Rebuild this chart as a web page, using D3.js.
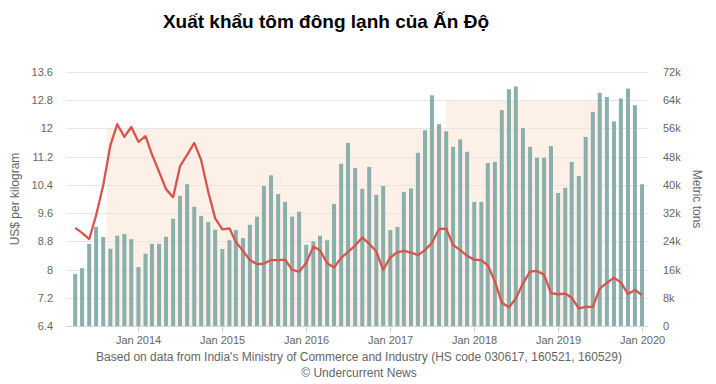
<!DOCTYPE html>
<html>
<head>
<meta charset="utf-8">
<script src="https://cdn.jsdelivr.net/npm/d3@7/dist/d3.min.js"></script>
<style>
  body { margin: 0; background: #fff; }
  svg { font-family: "Liberation Sans", Arial, sans-serif; }
  .grid line { stroke: #e6e6e6; }
  .tick-label { fill: #666; font-size: 11px; }
  .axis-title { fill: #666; font-size: 12px; }
</style>
</head>
<body>
<div id="chart"></div>
<script>
// monthly exports, Apr 2013 .. Jan 2020
const FIRST_MONTH = new Date(2013, 3, 1);
const LAST_MONTH = new Date(2020, 0, 1);

// metric tons (thousands)
const VOLUME = [
  14.7, 16.4, 23.3, 28.1, 25.2, 21.9, 25.6, 26.1, 24.6,
  16.7, 20.5, 23.3, 23.3, 25.3, 30.4, 36.9, 40.2, 33.8, 31.2, 29.5, 27.3,
  21.8, 24.3, 27.2, 24.9, 28.7, 31.0, 39.7, 42.7, 37.4, 35.2, 31.0, 32.4,
  23.0, 24.0, 25.6, 24.3, 34.6, 46.0, 51.9, 44.8, 38.9, 45.1, 37.2, 39.7,
  27.2, 28.1, 38.0, 39.0, 49.1, 55.5, 65.4, 57.2, 55.2, 50.8, 52.9, 49.4,
  35.2, 35.2, 46.2, 46.5, 61.2, 67.1, 67.9, 56.1, 50.8, 47.7, 47.7, 51.0,
  37.7, 39.2, 46.5, 42.5, 53.6, 60.7, 66.1, 64.9, 58.0, 64.5, 67.3, 62.6,
  40.2
];

// US$ per kilogram
const PRICE = [
  9.18, 9.04, 8.86, 9.54, 10.39, 11.52, 12.12, 11.76, 12.04,
  11.62, 11.78, 11.26, 10.77, 10.28, 10.05, 10.93, 11.25, 11.59, 11.10, 10.20, 9.45,
  9.14, 9.17, 8.78, 8.53, 8.27, 8.15, 8.17, 8.27, 8.27, 8.28, 7.99, 7.94,
  8.19, 8.65, 8.55, 8.18, 8.06, 8.33, 8.50, 8.68, 8.91, 8.73, 8.51, 7.99,
  8.35, 8.49, 8.53, 8.48, 8.41, 8.55, 8.76, 9.15, 9.16, 8.70, 8.55, 8.39,
  8.28, 8.27, 8.12, 7.66, 7.06, 6.93, 7.18, 7.61, 7.94, 7.96, 7.85, 7.33,
  7.30, 7.32, 7.20, 6.90, 6.94, 6.94, 7.46, 7.62, 7.77, 7.63, 7.31, 7.42,
  7.28
];

// shaded price bands
const BAND_FROM = ["2013-08-16", "2017-09-01"];
const BAND_TO = ["2017-09-01", "2019-07-16"];
const BAND_TOP = [12, 12.8];

const PRICE_TICKS = [6.4, 7.2, 8, 8.8, 9.6, 10.4, 11.2, 12, 12.8, 13.6];
const VOLUME_TICKS = [0, 8, 16, 24, 32, 40, 48, 56, 64, 72];
const YEAR_TICKS = ["2014-01-01", "2015-01-01", "2016-01-01", "2017-01-01", "2018-01-01", "2019-01-01", "2020-01-01"];

const TITLE = "Xuất khẩu tôm đông lạnh của Ấn Độ";
const SOURCE = "Based on data from India's Ministry of Commerce and Industry (HS code 030617, 160521, 160529)";
const CREDIT = "© Undercurrent News";

const WIDTH = 716, HEIGHT = 384;
const MARGIN = {left: 66, right: 68, top: 72, bottom: 58};

const parse = d3.timeParse("%Y-%m-%d");
const months = d3.timeMonth.range(FIRST_MONTH, d3.timeMonth.offset(LAST_MONTH, 1));
const data = months.map((m, i) => ({date: m, volume: VOLUME[i], price: PRICE[i]}));

const svg = d3.select("#chart")
  .append("svg")
  .attr("width", WIDTH)
  .attr("height", HEIGHT);

const X = d3.scaleTime()
  .domain([d3.timeDay.offset(FIRST_MONTH, -40), d3.timeDay.offset(LAST_MONTH, 26)])
  .range([MARGIN.left, WIDTH - MARGIN.right]);

const Y_PRICE = d3.scaleLinear()
  .domain([6.4, 13.6])
  .range([HEIGHT - MARGIN.bottom, MARGIN.top]);

const Y_VOL = d3.scaleLinear()
  .domain([0, 72])
  .range([HEIGHT - MARGIN.bottom, MARGIN.top]);

// bands
svg.append("g")
  .selectAll("rect")
  .data(BAND_TOP)
  .enter().append("rect")
  .attr("x", (d, i) => X(parse(BAND_FROM[i])))
  .attr("width", (d, i) => X(parse(BAND_TO[i])) - X(parse(BAND_FROM[i])))
  .attr("y", d => Y_PRICE(d))
  .attr("height", d => Y_PRICE(6.4) - Y_PRICE(d))
  .attr("fill", "#fdf0e6");

// grid
svg.append("g")
  .attr("class", "grid")
  .selectAll("line")
  .data(PRICE_TICKS.slice(1))
  .enter().append("line")
  .attr("x1", MARGIN.left)
  .attr("x2", WIDTH - MARGIN.right)
  .attr("y1", d => Math.round(Y_PRICE(d)) + 0.5)
  .attr("y2", d => Math.round(Y_PRICE(d)) + 0.5);

// bars
svg.append("g")
  .selectAll("rect")
  .data(data)
  .enter().append("rect")
  .attr("x", d => X(d.date) - 2)
  .attr("width", 4)
  .attr("y", d => Y_VOL(d.volume))
  .attr("height", d => Y_VOL(0) - Y_VOL(d.volume))
  .attr("fill", "#8aafad");

// x axis line + ticks
const base = Y_PRICE(6.4);
svg.append("line")
  .attr("x1", MARGIN.left)
  .attr("x2", WIDTH - MARGIN.right)
  .attr("y1", base + 0.5)
  .attr("y2", base + 0.5)
  .attr("stroke", "#ccd6eb");

const xt = svg.append("g")
  .selectAll("g")
  .data(YEAR_TICKS.map(parse))
  .enter().append("g")
  .attr("transform", d => `translate(${Math.round(X(d)) + 0.5},0)`);
xt.append("line")
  .attr("y1", base)
  .attr("y2", base + 7)
  .attr("stroke", "#ccd6eb");
xt.append("text")
  .attr("class", "tick-label")
  .attr("y", base + 18)
  .attr("text-anchor", "middle")
  .text(d3.timeFormat("Jan %Y"));

// line
svg.append("path")
  .datum(data)
  .attr("fill", "none")
  .attr("stroke", "#d9534f")
  .attr("stroke-width", 2.3)
  .attr("stroke-linejoin", "round")
  .attr("d", d3.line().x(d => X(d.date)).y(d => Y_PRICE(d.price)));

// left labels
svg.append("g")
  .selectAll("text")
  .data(PRICE_TICKS)
  .enter().append("text")
  .attr("class", "tick-label")
  .attr("x", MARGIN.left - 13)
  .attr("y", d => Y_PRICE(d) + 4)
  .attr("text-anchor", "end")
  .text(d => d);

// right labels
svg.append("g")
  .selectAll("text")
  .data(VOLUME_TICKS)
  .enter().append("text")
  .attr("class", "tick-label")
  .attr("x", WIDTH - MARGIN.right + 15)
  .attr("y", d => Y_VOL(d) + 4)
  .attr("text-anchor", "start")
  .text(d => d ? d + "k" : "0");

// axis titles
svg.append("text")
  .attr("class", "axis-title")
  .attr("transform", `translate(19,${(MARGIN.top + base) / 2}) rotate(-90)`)
  .attr("text-anchor", "middle")
  .text("US$ per kilogram");

svg.append("text")
  .attr("class", "axis-title")
  .attr("transform", `translate(693,${(MARGIN.top + base) / 2}) rotate(90)`)
  .attr("text-anchor", "middle")
  .text("Metric tons");

// title and notes
svg.append("text")
  .attr("x", 326)
  .attr("y", 28)
  .attr("text-anchor", "middle")
  .attr("font-size", 19)
  .attr("font-weight", "bold")
  .attr("fill", "#000")
  .text(TITLE);

svg.append("text")
  .attr("x", 359)
  .attr("y", 361)
  .attr("text-anchor", "middle")
  .attr("font-size", 12)
  .attr("fill", "#666")
  .text(SOURCE);

svg.append("text")
  .attr("x", 359)
  .attr("y", 377)
  .attr("text-anchor", "middle")
  .attr("font-size", 12)
  .attr("fill", "#666")
  .text(CREDIT);
</script>
</body>
</html>
